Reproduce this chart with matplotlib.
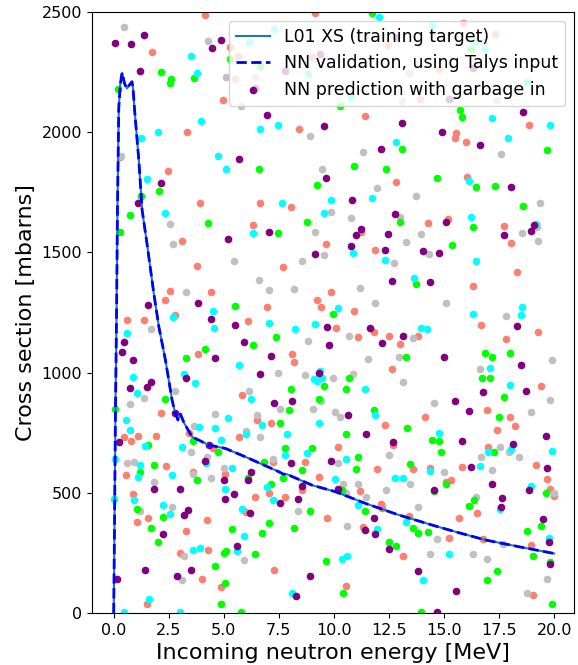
"""Cross section: training target, NN validation and NN prediction with garbage in."""

import matplotlib

matplotlib.use("Agg")
import matplotlib.pyplot as plt

# L01 cross section curve (training target) and NN validation (same shape)
curve_energy = [0.0, 0.04, 0.08, 0.13, 0.17, 0.23, 0.3, 0.38, 0.5, 0.6, 0.7, 0.83,
                0.88, 0.95, 1.14, 1.29, 1.51, 1.82, 2.05, 2.35, 2.65, 2.8, 2.92,
                3.03, 3.2, 3.56, 4.32, 5.07, 5.98, 7.5, 7.7, 7.85, 9.01, 10.07,
                11.44, 12.95, 14.47, 15.53, 16.89, 18.41, 20.0]
curve_xs = [0, 400, 844, 1250, 1676, 2100, 2200, 2247, 2200, 2182, 2195, 2210,
            2180, 2090, 1884, 1676, 1538, 1330, 1191, 1052, 886, 830, 803,
            828, 790, 733, 699, 685, 650, 588, 578, 578, 532, 505,
            456, 408, 366, 338, 304, 276, 248]

# garbage-in predictions, one pair of lists per colour
salmon_e = [4.165, 1.741, 3.347, 2.468, 3.908, 0.28, 9.135, 5.301, 5.635, 5.53, 9.0,
            4.983, 8.423, 6.65, 8.044, 12.44, 14.77, 13.89, 11.41, 12.83, 15.88,
            17.32, 18.86, 15.56, 15.48, 15.98, 16.04, 3.09, 3.787, 2.575, 4.423,
            2.332, 2.787, 0.62, 1.362, 3.847, 6.332, 9.635, 7.68, 9.877, 9.21,
            9.392, 6.968, 6.089, 8.104, 8.18, 5.832, 14.27, 15.18, 11.24, 11.86,
            10.91, 10.1, 11.8, 11.09, 12.51, 13.83, 13.01, 12.62, 17.73, 18.04,
            18.3, 16.32, 16.695, 19.26, 17.83, 19.42, 2.15, 3.438, 0.469, 0.802,
            1.12, 1.938, 2.393, 0.544, 3.59, 0.862, 1.575, 1.044, 4.241, 3.287,
            4.302, 3.029, 4.0, 1.514, 6.513, 7.15, 5.695, 4.513, 7.226, 8.68,
            5.074, 9.316, 8.559, 7.044, 6.408, 7.801, 6.029, 9.695, 7.286, 4.877,
            14.13, 12.3, 12.68, 10.2, 13.58, 14.35, 11.94, 15.33, 15.105, 11.17,
            12.12, 12.2, 13.41, 11.3, 15.23, 13.14, 10.53, 16.94, 17.98, 18.23,
            17.41, 17.01, 19.18, 15.82, 19.68, 19.82, 20.01, 16.51, 15.66, 16.77,
            18.94, 19.03]
salmon_xs = [2487, 2332, 2000, 1837, 1707, 1898, 2497, 2355, 2315, 2221, 2314,
             2134, 2013, 1704, 1687, 2362, 2261, 2139, 2067, 1794, 2453,
             2408, 2028, 1995, 1974, 1960, 1812, 1547, 1443, 1340, 1334,
             1303, 1240, 1220, 1220, 1076, 1614, 1535, 1441, 1337, 1301,
             1272, 1274, 1216, 1076, 1043, 908, 1624, 1639, 1583, 1509,
             1256, 1187, 1170, 1148, 1151, 1154, 1118, 1015, 1610, 1538,
             1417, 1362, 1199, 1170, 1138, 944, 831, 751, 731, 717,
             736, 738, 611, 575, 588, 496, 394, 377, 387, 342,
             263, 252, 143, 40, 803, 789, 731, 685, 627, 627,
             580, 566, 514, 498, 484, 481, 419, 396, 179, 107,
             817, 781, 699, 689, 600, 604, 598, 552, 544, 509,
             453, 438, 403, 358, 312, 237, 114, 844, 817, 778,
             761, 692, 614, 609, 559, 517, 487, 416, 396, 309,
             283, 75]

silver_e = [0.469, 4.302, 0.33, 5.12, 6.41, 5.771, 8.892, 9.453, 13.41, 13.08, 11.3,
            11.95, 13.71, 16.77, 17.42, 17.59, 19.36, 2.575, 2.711, 3.287, 1.696,
            2.787, 1.362, 0.726, 9.877, 9.135, 9.559, 5.453, 8.559, 6.589, 7.044,
            8.18, 8.816, 7.468, 8.68, 9.953, 6.15, 9.392, 7.559, 9.059, 10.79,
            13.02, 13.97, 13.26, 14.3, 12.74, 11.17, 11.88, 15.105, 10.67, 13.57,
            11.56, 12.94, 10.85, 13.15, 14.54, 19.21, 18.54, 19.26, 17.83, 19.92,
            16.62, 19.82, 3.665, 3.514, 0.62, 0.938, 4.241, 3.605, 4.423, 1.817,
            1.196, 2.635, 3.211, 3.09, 4.62, 6.513, 5.998, 6.65, 7.226, 4.998,
            8.362, 5.938, 10.07, 10.27, 12.5, 10.18, 14.999, 10.42, 11.09, 13.47,
            10.53, 12.36, 11.47, 13.83, 10.59, 14.68, 14.35, 18.94, 17.53, 17.95,
            16.7, 18.41, 17.2, 19.999, 16.44, 17.7, 16.32, 16.94, 19.68, 18.79]
silver_xs = [2439, 2380, 1903, 2228, 2231, 2109, 1984, 1847, 2245, 2131, 1919,
             1769, 1734, 2376, 2134, 1909, 1707, 1617, 1535, 1334, 1181,
             923, 893, 869, 1669, 1583, 1489, 1463, 1466, 1385, 1342,
             1346, 1131, 998, 989, 979, 923, 883, 849, 849, 1643,
             1647, 1577, 1545, 1493, 1457, 1352, 1291, 1291, 1151, 1145,
             1057, 1066, 994, 962, 875, 1607, 1579, 1547, 1235, 1051,
             1015, 885, 779, 672, 625, 627, 650, 577, 563, 544,
             423, 440, 237, 137, 828, 826, 757, 733, 641, 602,
             426, 220, 837, 817, 657, 623, 585, 537, 539, 537,
             498, 510, 484, 441, 363, 309, 247, 835, 689, 671,
             650, 650, 595, 498, 484, 286, 245, 224, 140, 82]

lime_e = [2.135, 2.62, 2.559, 3.665, 0.196, 2.075, 1.256, 5.27, 6.665, 6.589, 9.21,
          11.74, 10.26, 13.08, 10.92, 12.36, 14.68, 16.21, 15.74, 15.8, 19.68,
          16.44, 17.32, 18.6, 0.726, 4.302, 0.302, 4.165, 3.287, 2.317, 0.044,
          8.756, 7.483, 5.513, 9.953, 7.362, 6.332, 9.559, 8.044, 9.316, 7.938,
          13.02, 15.35, 13.73, 13.26, 10.67, 10.57, 16.32, 16.86, 17.2, 17.98,
          16.71, 17.09, 17.73, 3.605, 1.575, 1.817, 1.181, 3.787, 1.044, 2.241,
          1.696, 1.999, 7.559, 7.771, 8.983, 4.74, 6.816, 8.559, 6.089, 7.68,
          7.165, 8.892, 7.044, 5.377, 8.18, 6.741, 4.998, 5.12, 6.407, 9.62,
          4.62, 5.044, 4.877, 5.771, 11.82, 13.33, 10.53, 14.44, 14.77, 14.85,
          11.09, 13.47, 10.98, 15.105, 10.35, 14.54, 11.39, 13.57, 13.83, 14.29,
          12.5, 12.83, 10.42, 13.97, 17.5, 17.27, 19.62, 16.38, 16.13, 19.42,
          18.79, 19.04, 19.82, 17.41, 16.94, 19.92]
lime_xs = [2250, 2220, 2204, 2224, 2178, 1755, 1736, 2306, 2276, 1847, 1780,
           2497, 2109, 1929, 1861, 1848, 1808, 2344, 2092, 2062, 1928,
           1773, 1776, 1694, 1656, 1624, 1583, 1097, 1062, 890, 849,
           1625, 1579, 1277, 1242, 1148, 1115, 946, 933, 892, 844,
           1628, 1532, 1369, 1066, 979, 933, 1607, 1083, 1066, 1080,
           976, 976, 897, 717, 699, 614, 585, 552, 435, 399,
           352, 295, 792, 685, 688, 671, 627, 595, 563, 563,
           539, 423, 373, 348, 354, 334, 251, 259, 244, 218,
           195, 126, 36, 3, 844, 768, 747, 722, 715, 670,
           650, 621, 600, 537, 514, 506, 423, 354, 334, 337,
           295, 279, 83, 3, 817, 671, 498, 470, 445, 363,
           341, 237, 211, 175, 136, 39]

cyan_e = [3.514, 3.787, 3.984, 1.999, 1.256, 1.499, 7.3, 6.15, 8.83, 6.65, 7.483,
          4.726, 5.12, 9.877, 7.665, 12.06, 14.47, 10.79, 12.83, 11.74, 16.41,
          16.86, 18.79, 17.2, 19.82, 17.91, 16.13, 2.317, 4.499, 2.711, 4.559,
          0.62, 0.862, 3.211, 3.681, 1.044, 9.559, 6.332, 7.044, 8.241, 9.135,
          5.71, 9.377, 9.074, 9.226, 9.468, 6.256, 10.85, 12.3, 13.65, 10.2,
          13.97, 14.23, 11.41, 16.21, 19.18, 16.45, 18.54, 16.3, 18.48, 17.09,
          17.98, 0.544, 0.726, 3.863, 1.438, 3.105, 0.044, 1.196, 4.18, 1.12,
          2.65, 0.0, 0.938, 2.241, 2.575, 3.605, 3.923, 1.59, 0.484, 3.029,
          5.195, 4.62, 6.741, 9.316, 5.998, 7.877, 4.877, 7.801, 8.756, 5.377,
          5.074, 6.968, 7.226, 5.832, 5.938, 5.62, 8.104, 11.86, 14.77, 10.53,
          14.35, 10.07, 12.76, 13.14, 11.09, 13.26, 11.95, 15.23, 10.35, 10.59,
          14.03, 18.04, 17.01, 19.92, 16.63, 18.94, 17.53, 19.76]
cyan_xs = [2318, 2247, 2046, 1999, 1974, 1805, 2428, 2374, 2240, 2012, 2030,
           1901, 1847, 1720, 1707, 2480, 2446, 2145, 1960, 1727, 2376,
           2344, 2210, 2059, 2028, 1977, 1798, 1665, 1256, 1230, 1187,
           1163, 983, 996, 955, 914, 1663, 1579, 1206, 1181, 1204,
           1030, 1005, 972, 965, 976, 890, 1496, 1467, 1395, 1271,
           1184, 1180, 930, 1649, 1618, 1463, 1272, 1242, 1238, 1018,
           947, 803, 761, 772, 695, 689, 639, 618, 625, 566,
           575, 474, 471, 451, 412, 263, 270, 58, 5, 5,
           810, 768, 782, 789, 747, 747, 718, 656, 668, 604,
           517, 523, 471, 435, 322, 259, 84, 822, 750, 643,
           589, 556, 560, 563, 451, 377, 348, 244, 225, 237,
           136, 682, 671, 675, 611, 527, 435, 312]

purple_e = [1.362, 0.044, 0.802, 4.484, 1.181, 2.135, 1.105, 4.877, 6.438, 7.8, 9.39,
            6.983, 9.559, 5.695, 9.635, 12.8, 15.24, 13.08, 14.92, 12.12, 10.83,
            16.32, 18.6, 16.63, 18.04, 3.847, 1.575, 4.408, 0.469, 0.362, 0.862,
            3.287, 1.681, 1.499, 0.726, 7.044, 5.195, 9.135, 5.513, 9.695, 5.938,
            9.771, 4.62, 7.15, 6.65, 9.316, 7.286, 8.104, 12.76, 15.105, 11.24,
            10.98, 12.44, 10.79, 12.3, 14.03, 14.79, 12.62, 14.36, 11.62, 13.15,
            12.2, 14.999, 19.09, 17.73, 18.94, 18.3, 18.48, 16.77, 18.74, 15.5,
            2.787, 0.226, 4.317, 4.165, 1.817, 3.029, 3.362, 3.211, 2.241, 1.423,
            0.166, 2.878, 3.529, 8.044, 9.877, 6.256, 6.089, 4.998, 8.559, 5.453,
            5.044, 7.544, 8.362, 6.18, 5.62, 8.892, 8.256, 10.65, 11.47, 12.68,
            10.18, 14.54, 11.8, 11.39, 11.86, 12.5, 13.83, 14.68, 16.13, 19.62,
            15.82, 18.15, 16.21, 19.68, 17.2, 18.86, 17.65, 17.6, 19.5, 19.76,
            19.82, 15.56]
purple_xs = [2404, 2369, 2367, 2351, 2253, 1788, 1704, 2383, 2185, 2254, 2326,
             2071, 2025, 1890, 1811, 2397, 2139, 2039, 2001, 1931, 1720,
             2265, 2085, 1948, 1773, 1291, 1281, 1223, 1129, 1086, 1054,
             979, 962, 940, 937, 1586, 1557, 1493, 1199, 1191, 1129,
             1115, 1061, 1069, 996, 1000, 872, 883, 1658, 1628, 1599,
             1571, 1577, 1525, 1509, 1504, 1499, 1382, 1378, 1184, 1151,
             1122, 1066, 1614, 1571, 1590, 1194, 1032, 921, 923, 883,
             831, 711, 699, 634, 518, 516, 430, 410, 327, 179,
             144, 154, 179, 624, 634, 585, 553, 553, 527, 494,
             474, 458, 474, 416, 280, 155, 72, 826, 745, 710,
             517, 510, 394, 344, 331, 266, 175, 3, 840, 736,
             715, 703, 609, 602, 537, 514, 480, 442, 391, 295,
             204, 90]


def main():
    fig = plt.figure(figsize=(5.78, 6.65), dpi=100)
    ax = fig.add_axes([0.159, 0.078, 0.834, 0.904])

    (target,) = ax.plot(curve_energy, curve_xs, color="#1f77b4", lw=1.5,
                        label="L01 XS (training target)")
    (valid,) = ax.plot(curve_energy, curve_xs, "b--", lw=2,
                       label="NN validation, using Talys input")

    dot = 20
    ax.scatter(salmon_e, salmon_xs, s=dot, color="salmon")
    ax.scatter(silver_e, silver_xs, s=dot, color="silver")
    ax.scatter(lime_e, lime_xs, s=dot, color="lime")
    ax.scatter(cyan_e, cyan_xs, s=dot, color="cyan")
    garbage = ax.scatter(purple_e, purple_xs, s=dot, color="purple",
                         label="NN prediction with garbage in")

    ax.set_xlim(-0.99, 20.9)
    ax.set_ylim(0, 2500)
    ax.set_xticks([0, 2.5, 5, 7.5, 10, 12.5, 15, 17.5, 20])
    ax.set_xticklabels(["0.0", "2.5", "5.0", "7.5", "10.0", "12.5", "15.0", "17.5", "20.0"])
    ax.tick_params(labelsize=11.5)
    ax.set_xlabel("Incoming neutron energy [MeV]", fontsize=16)
    ax.set_ylabel("Cross section [mbarns]", fontsize=16)
    ax.legend(handles=[target, valid, garbage], loc="upper right", fontsize=12.5)

    fig.savefig("out.png", dpi=100)
    plt.close(fig)


if __name__ == "__main__":
    main()
